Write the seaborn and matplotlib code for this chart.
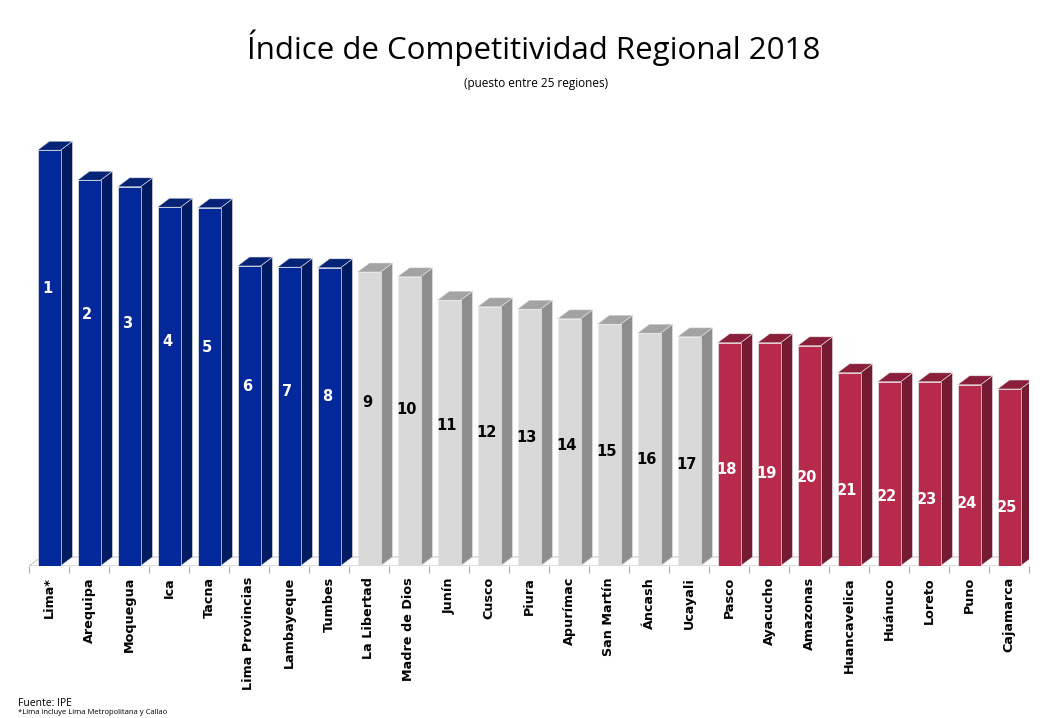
import matplotlib
matplotlib.use("Agg")
import matplotlib.pyplot as plt
import seaborn as sns
import pandas as pd
from matplotlib.patches import Polygon

# ---------------- data ----------------
regions = ["Lima*", "Arequipa", "Moquegua", "Ica", "Tacna", "Lima Provincias",
           "Lambayeque", "Tumbes", "La Libertad", "Madre de Dios", "Junín", "Cusco",
           "Piura", "Apurímac", "San Martín", "Áncash", "Ucayali", "Pasco",
           "Ayacucho", "Amazonas", "Huancavelica", "Huánuco", "Loreto", "Puno",
           "Cajamarca"]
scores = [6.93, 6.43, 6.32, 5.98, 5.97, 5.00, 4.98, 4.97, 4.90, 4.82, 4.43, 4.32,
          4.28, 4.12, 4.03, 3.88, 3.82, 3.72, 3.72, 3.67, 3.22, 3.07, 3.07, 3.02,
          2.95]
ranks = list(range(1, 26))
groups = ["alto"] * 8 + ["medio"] * 9 + ["bajo"] * 8

title = "Índice de Competitividad Regional 2018"
subtitle = "(puesto entre 25 regiones)"
source = "Fuente: IPE"
note = "*Lima incluye Lima Metropolitana y Callao"

# ---------------- style ----------------
front = {"alto": "#03289a", "medio": "#d9d9d9", "bajo": "#b82a4c"}
side = {"alto": "#001a60", "medio": "#8e8e8e", "bajo": "#741a33"}
top = {"alto": "#062378", "medio": "#a3a3a3", "bajo": "#8a1f3a"}
label_color = {"alto": "white", "medio": "black", "bajo": "white"}

sns.set_theme(style="white")
plt.rcParams['font.family'] = ['DejaVu Sans']

W, H = 1050, 718
fig = plt.figure(figsize=(W / 100, H / 100), dpi=100)
ax = fig.add_axes([29 / W, (H - 566) / H, 1000 / W, 436 / H])

df = pd.DataFrame({"region": regions, "score": scores, "rank": ranks, "group": groups})

ymax = 436 / 60.0
ax.set_ylim(0, ymax)
ax.set_xlim(-0.5, len(regions) - 0.5)

# 3D depth (in data units)
dx = 12 / 40.0
dy = 9 * ymax / 436.0

# floor
floor = Polygon([(-0.5, 0), (len(regions) - 0.5 - 0.25, 0),
                 (len(regions) - 0.5 - 0.25 + dx, dy), (-0.5 + dx, dy)],
                closed=True, facecolor="white", edgecolor="#c8c8c8", lw=0.8, zorder=0.5)
ax.add_patch(floor)

sns.barplot(data=df, x="region", y="score", hue="group", palette=front,
            dodge=False, width=0.575, legend=False, ax=ax, saturation=1,
            order=regions, edgecolor="#e6e6e6", linewidth=0.5, zorder=2)

ax.set_xlim(-0.5, len(regions) - 0.5)
ax.set_ylim(0, ymax)

centers = {}
for p in ax.patches:
    if p is floor:
        continue
    h = p.get_height()
    if h is None or not h == h or h <= 0:
        continue
    x0, w = p.get_x(), p.get_width()
    idx = int(round(x0 + w / 2))
    g = groups[idx]
    sp = Polygon([(x0 + w, 0), (x0 + w + dx, dy), (x0 + w + dx, h + dy), (x0 + w, h)],
                 closed=True, facecolor=side[g], edgecolor="#e6e6e6", lw=0.4, zorder=1.9)
    tp = Polygon([(x0, h), (x0 + dx, h + dy), (x0 + w + dx, h + dy), (x0 + w, h)],
                 closed=True, facecolor=top[g], edgecolor="#e6e6e6", lw=0.4, zorder=1.9)
    ax.add_patch(sp)
    ax.add_patch(tp)
    centers[idx] = (x0 + w / 2, h)

n = len(regions)
for i in range(n):
    cx, h = centers[i]
    frac = 2 / 3 - (1 / 3) * i / (n - 1)
    ax.text(cx - 0.05, h * frac, str(ranks[i]), ha="center", va="center",
            color=label_color[groups[i]], fontsize=10.5, fontweight="bold", zorder=5)

for s in ax.spines.values():
    s.set_visible(False)
ax.set_yticks([])
ax.set_xlabel("")
ax.set_ylabel("")
ax.set_xticks(range(n))
ax.set_xticklabels(regions, rotation=90, fontsize=9.2, fontweight="bold", color="black")
ax.set_xticks([i - 0.5 for i in range(n + 1)], minor=True)
ax.tick_params(axis="x", which="major", length=0, pad=8)
ax.tick_params(axis="x", which="minor", length=5, color="#b0b0b0", width=0.8,
               direction="out", bottom=True)
ax.grid(False)

fig.text(534 / W, 1 - 48 / H, title, ha="center", va="center", fontsize=22.5,
         family=["Open Sans", "DejaVu Sans"], color="black")
fig.text(536 / W, 1 - 83 / H, subtitle, ha="center", va="center", fontsize=8.5,
         family=["Open Sans", "DejaVu Sans"], color="black")
fig.text(18 / W, 1 - 703 / H, source, ha="left", va="center", fontsize=7.5,
         family=["Open Sans", "DejaVu Sans"], color="black")
fig.text(18 / W, (H - 716) / H, note, ha="left", va="bottom", fontsize=5.5,
         family=["Open Sans", "DejaVu Sans"], color="black")

fig.savefig("out.png", dpi=100, facecolor="white")
